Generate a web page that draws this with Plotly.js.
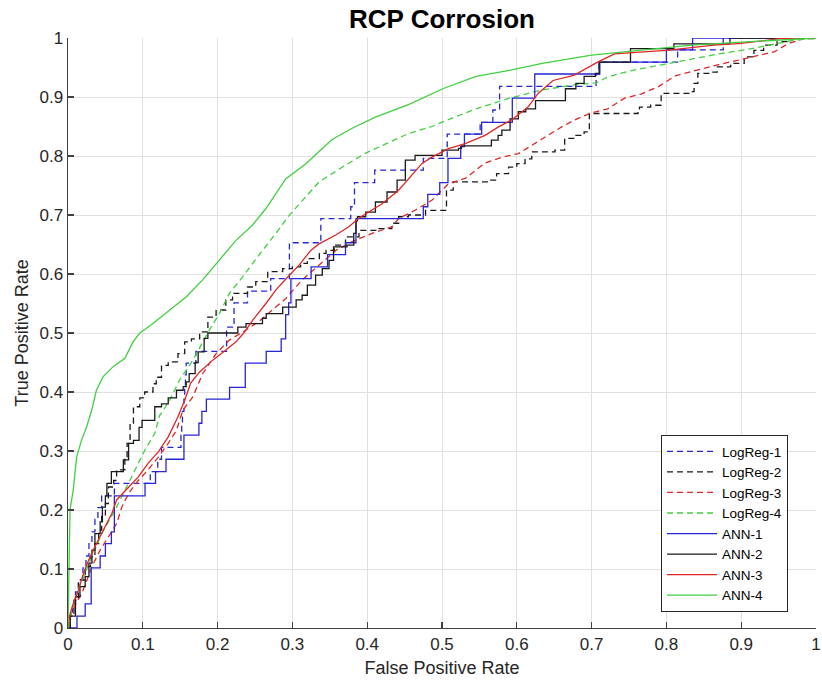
<!DOCTYPE html>
<html>
<head>
<meta charset="utf-8">
<script src="https://cdn.plot.ly/plotly-3.0.1.min.js"></script>
<style>html,body{margin:0;padding:0;background:#fff;}#chart{width:822px;height:685px;}</style>
</head>
<body>
<div id="chart"></div>
<script>
// [false positive rate, true positive rate] vertices
var logreg1 = [[0,0],[0,0.02],[0.006,0.041],[0.01,0.061],[0.014,0.082],[0.02,0.102],[0.024,0.122],[0.028,0.143],[0.032,0.163],[0.036,0.184],[0.04,0.204],[0.045,0.224],[0.062,0.245],[0.11,0.265],[0.12,0.286],[0.125,0.306],[0.151,0.327],[0.152,0.347],[0.153,0.367],[0.155,0.388],[0.156,0.408],[0.157,0.429],[0.158,0.449],[0.171,0.469],[0.212,0.49],[0.212,0.51],[0.222,0.531],[0.222,0.551],[0.24,0.571],[0.271,0.592],[0.296,0.612],[0.296,0.633],[0.296,0.653],[0.338,0.673],[0.338,0.694],[0.378,0.714],[0.383,0.735],[0.383,0.755],[0.41,0.776],[0.475,0.796],[0.507,0.816],[0.507,0.837],[0.551,0.857],[0.568,0.878],[0.577,0.898],[0.577,0.918],[0.706,0.939],[0.71,0.959],[0.815,0.98],[0.876,1],[1,1]];
var logreg2 = [[0,0],[0.003,0.02],[0.008,0.047],[0.014,0.081],[0.023,0.104],[0.03,0.121],[0.036,0.143],[0.041,0.166],[0.045,0.189],[0.05,0.211],[0.054,0.239],[0.061,0.25],[0.065,0.268],[0.076,0.29],[0.079,0.313],[0.083,0.347],[0.0875,0.375],[0.096,0.39],[0.1025,0.4],[0.1136,0.414],[0.118,0.425],[0.125,0.445],[0.134,0.451],[0.147,0.465],[0.156,0.485],[0.165,0.49],[0.176,0.502],[0.187,0.527],[0.198,0.539],[0.211,0.556],[0.22,0.567],[0.24,0.578],[0.251,0.587],[0.267,0.604],[0.287,0.609],[0.3,0.612],[0.311,0.618],[0.32,0.626],[0.336,0.635],[0.345,0.64],[0.356,0.649],[0.371,0.663],[0.389,0.674],[0.415,0.677],[0.433,0.686],[0.442,0.697],[0.455,0.7],[0.478,0.708],[0.498,0.708],[0.506,0.742],[0.515,0.756],[0.564,0.759],[0.573,0.77],[0.589,0.781],[0.6,0.787],[0.611,0.795],[0.62,0.807],[0.651,0.81],[0.664,0.83],[0.677,0.835],[0.69,0.841],[0.697,0.872],[0.762,0.875],[0.764,0.883],[0.779,0.886],[0.793,0.906],[0.833,0.909],[0.837,0.923],[0.842,0.94],[0.859,0.942],[0.868,0.951],[0.886,0.957],[0.904,0.968],[0.917,0.979],[0.93,0.988],[0.948,0.994],[0.966,0.999],[1,1]];
var logreg3 = [[0,0],[0.003,0.02],[0.01,0.04],[0.0186,0.059],[0.025,0.08],[0.032,0.104],[0.043,0.132],[0.054,0.155],[0.065,0.177],[0.072,0.205],[0.081,0.228],[0.094,0.25],[0.107,0.268],[0.121,0.29],[0.134,0.313],[0.145,0.335],[0.1535,0.369],[0.167,0.392],[0.176,0.42],[0.18,0.431],[0.198,0.465],[0.2157,0.488],[0.238,0.505],[0.2557,0.52],[0.273,0.539],[0.291,0.558],[0.313,0.59],[0.3356,0.615],[0.358,0.64],[0.38,0.655],[0.4066,0.669],[0.433,0.68],[0.442,0.694],[0.464,0.708],[0.4865,0.725],[0.5087,0.753],[0.531,0.762],[0.5575,0.788],[0.58,0.798],[0.602,0.804],[0.62,0.818],[0.642,0.835],[0.6595,0.849],[0.677,0.861],[0.6995,0.873],[0.7217,0.88],[0.744,0.898],[0.766,0.905],[0.79,0.918],[0.812,0.936],[0.8415,0.946],[0.87,0.955],[0.905,0.965],[0.945,0.977],[0.962,0.99],[0.983,0.999],[1,1]];
var logreg4 = [[0,0],[0.005,0.03],[0.015,0.07],[0.025,0.1],[0.035,0.13],[0.045,0.16],[0.063,0.2],[0.076,0.234],[0.09,0.268],[0.103,0.302],[0.116,0.33],[0.1225,0.36],[0.136,0.386],[0.149,0.42],[0.167,0.454],[0.18,0.485],[0.189,0.505],[0.2024,0.533],[0.2157,0.567],[0.2334,0.595],[0.2468,0.618],[0.26,0.64],[0.278,0.669],[0.2956,0.699],[0.313,0.724],[0.3356,0.756],[0.3666,0.781],[0.398,0.805],[0.424,0.82],[0.455,0.838],[0.4865,0.85],[0.501,0.858],[0.5455,0.88],[0.59,0.898],[0.634,0.912],[0.679,0.921],[0.706,0.924],[0.7217,0.934],[0.75,0.944],[0.79,0.954],[0.83,0.964],[0.87,0.973],[0.91,0.981],[0.94,0.988],[0.97,0.996],[1,1]];
var ann1 = [[0,0],[0.012,0.02],[0.023,0.041],[0.031,0.102],[0.043,0.122],[0.05,0.143],[0.058,0.163],[0.062,0.224],[0.103,0.245],[0.117,0.265],[0.131,0.286],[0.155,0.327],[0.175,0.347],[0.179,0.367],[0.185,0.388],[0.216,0.408],[0.237,0.449],[0.265,0.469],[0.285,0.49],[0.291,0.531],[0.295,0.551],[0.298,0.592],[0.325,0.612],[0.347,0.633],[0.371,0.653],[0.385,0.694],[0.475,0.714],[0.481,0.735],[0.497,0.755],[0.508,0.796],[0.525,0.816],[0.53,0.837],[0.553,0.857],[0.594,0.898],[0.624,0.939],[0.711,0.959],[0.8,0.98],[0.835,1],[1,1]];
var ann2 = [[0,0],[0.003,0.02],[0.01,0.053],[0.016,0.07],[0.023,0.087],[0.028,0.11],[0.032,0.132],[0.036,0.16],[0.043,0.18],[0.046,0.205],[0.05,0.224],[0.052,0.245],[0.058,0.265],[0.074,0.285],[0.081,0.313],[0.0875,0.318],[0.095,0.34],[0.099,0.352],[0.116,0.375],[0.125,0.38],[0.134,0.39],[0.145,0.403],[0.154,0.409],[0.158,0.417],[0.162,0.431],[0.17,0.45],[0.174,0.468],[0.182,0.491],[0.187,0.5],[0.227,0.51],[0.238,0.516],[0.253,0.516],[0.26,0.525],[0.265,0.533],[0.282,0.533],[0.287,0.544],[0.305,0.556],[0.313,0.564],[0.32,0.581],[0.331,0.598],[0.34,0.609],[0.349,0.623],[0.355,0.646],[0.373,0.649],[0.382,0.669],[0.385,0.69],[0.387,0.697],[0.398,0.705],[0.411,0.722],[0.4265,0.739],[0.44,0.759],[0.451,0.793],[0.464,0.801],[0.5,0.81],[0.522,0.813],[0.526,0.817],[0.564,0.817],[0.566,0.827],[0.575,0.835],[0.58,0.844],[0.591,0.863],[0.602,0.875],[0.612,0.88],[0.625,0.894],[0.652,0.894],[0.665,0.914],[0.679,0.923],[0.69,0.935],[0.705,0.94],[0.71,0.959],[0.741,0.959],[0.752,0.982],[0.81,0.99],[0.885,1],[1,1]];
var ann3 = [[0,0],[0.003,0.025],[0.008,0.045],[0.014,0.064],[0.02,0.09],[0.0275,0.115],[0.036,0.138],[0.05,0.172],[0.0586,0.194],[0.065,0.217],[0.081,0.239],[0.094,0.256],[0.107,0.279],[0.121,0.299],[0.134,0.324],[0.147,0.358],[0.156,0.386],[0.164,0.415],[0.176,0.434],[0.1935,0.454],[0.211,0.471],[0.2246,0.485],[0.235,0.5],[0.247,0.522],[0.2646,0.55],[0.278,0.573],[0.291,0.591],[0.309,0.615],[0.3245,0.64],[0.3356,0.651],[0.358,0.666],[0.3755,0.68],[0.389,0.695],[0.42,0.719],[0.442,0.742],[0.458,0.765],[0.473,0.787],[0.4865,0.798],[0.5087,0.8126],[0.531,0.821],[0.5575,0.835],[0.575,0.849],[0.593,0.861],[0.615,0.883],[0.6285,0.906],[0.6485,0.928],[0.677,0.937],[0.708,0.959],[0.7306,0.973],[0.8,0.979],[0.864,0.988],[0.9,0.991],[0.952,0.999],[1,1]];
var ann4 = [[0,0],[0.0005,0.05],[0.0013,0.093],[0.0027,0.2],[0.007,0.234],[0.0116,0.29],[0.018,0.318],[0.025,0.341],[0.0316,0.369],[0.038,0.403],[0.047,0.426],[0.0603,0.443],[0.076,0.457],[0.087,0.485],[0.096,0.5],[0.1136,0.516],[0.136,0.539],[0.158,0.561],[0.18,0.59],[0.2024,0.623],[0.2246,0.657],[0.2468,0.683],[0.2646,0.711],[0.291,0.761],[0.318,0.787],[0.353,0.828],[0.38,0.847],[0.411,0.866],[0.4567,0.888],[0.501,0.914],[0.5455,0.935],[0.59,0.945],[0.634,0.957],[0.7,0.971],[0.767,0.98],[0.834,0.988],[0.9,0.993],[1,1]];

var seriesNames = ['LogReg-1','LogReg-2','LogReg-3','LogReg-4','ANN-1','ANN-2','ANN-3','ANN-4'];
var seriesData = [logreg1, logreg2, logreg3, logreg4, ann1, ann2, ann3, ann4];
var seriesColors = ['#2626d9','#1a1a1a','#e02626','#40d040','#2626d9','#1a1a1a','#e02626','#40d040'];
var seriesDash = ['6px,4px','6px,4px','6px,4px','6px,4px','solid','solid','solid','solid'];
var seriesShape = ['hv','hv','linear','linear','hv','hv','linear','linear'];

var traces = seriesData.map(function(d, i){
  return {
    type: 'scatter', mode: 'lines', name: seriesNames[i],
    x: d.map(function(p){return p[0];}),
    y: d.map(function(p){return p[1];}),
    line: {color: seriesColors[i], width: 1.3, dash: seriesDash[i], shape: seriesShape[i]}
  };
});

var fontFam = '"Liberation Sans", Arial, Helvetica, sans-serif';
var axisCommon = {
  range: [0, 1], dtick: 0.1, tick0: 0,
  showgrid: true, gridcolor: '#e0e0e0', gridwidth: 1,
  zeroline: false, showline: true, linecolor: '#404040', linewidth: 1.4,
  ticks: 'inside', ticklen: 6, tickwidth: 1.2, tickcolor: '#404040',
  tickfont: {family: fontFam, size: 17, color: '#262626'},
  ticklabeloverflow: 'allow',
  fixedrange: true
};

var layout = {
  width: 822, height: 685,
  margin: {l: 68, r: 6, t: 38, b: 57},
  paper_bgcolor: '#ffffff', plot_bgcolor: '#ffffff',
  font: {family: fontFam, color: '#262626'},
  title: {text: '<b>RCP Corrosion</b>', x: 0.5, xref: 'paper', xanchor: 'center', y: 0.972, yref: 'container', yanchor: 'middle',
          font: {family: fontFam, size: 26, color: '#000000'}},
  xaxis: Object.assign({}, axisCommon, {title: {text: 'False Positive Rate', font: {family: fontFam, size: 18, color: '#262626'}, standoff: 8}}),
  yaxis: Object.assign({}, axisCommon, {title: {text: 'True Positive Rate', font: {family: fontFam, size: 18, color: '#262626'}, standoff: 6}}),
  showlegend: true,
  legend: {x: 0.9626, xanchor: 'right', y: 0.027, yanchor: 'bottom', bgcolor: '#ffffff', bordercolor: '#262626', borderwidth: 1,
           font: {family: fontFam, size: 13.5, color: '#000000'}, itemwidth: 50, tracegroupgap: 0}
};

Plotly.newPlot('chart', traces, layout, {displayModeBar: false, staticPlot: true});
</script>
</body>
</html>
